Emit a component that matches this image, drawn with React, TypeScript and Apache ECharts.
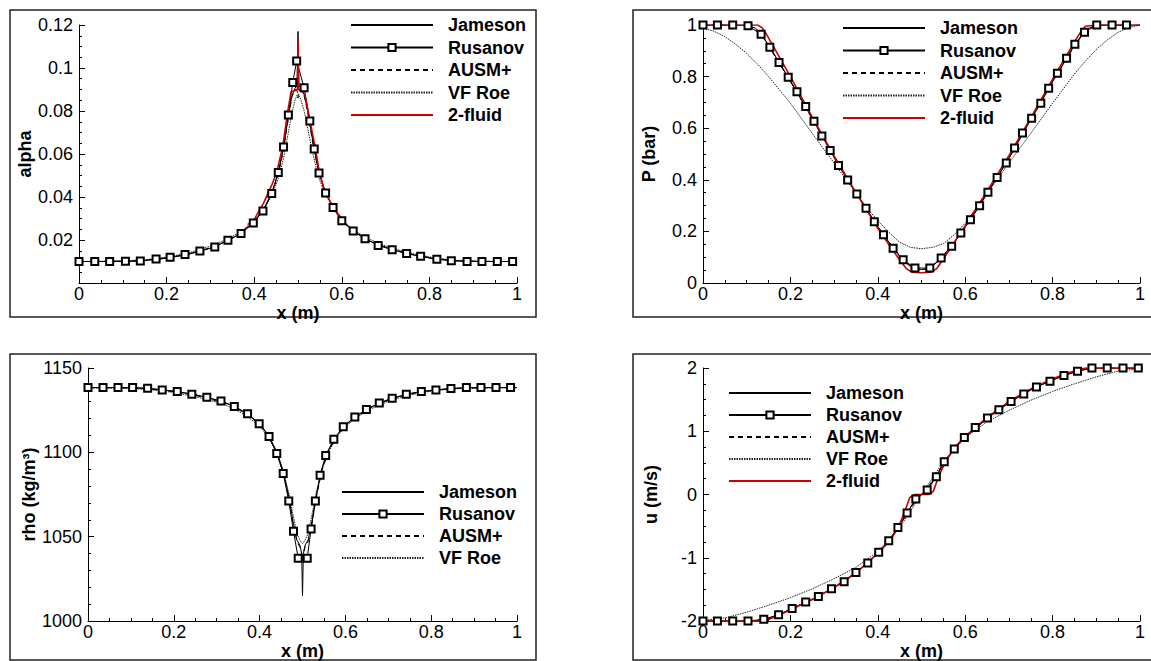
import React, { useEffect, useRef } from 'react';
import * as echarts from 'echarts';

const FONT = '"Liberation Sans", Arial, Helvetica, sans-serif';

const legendNames = ['Jameson', 'Rusanov', 'AUSM+', 'VF Roe', '2-fluid'];
const legendNamesRho = ['Jameson', 'Rusanov', 'AUSM+', 'VF Roe'];

// ---------- Panel 1: alpha ----------
const alphaX = [0, 0.05, 0.1, 0.15, 0.2, 0.25, 0.3, 0.34, 0.37, 0.4, 0.42, 0.44, 0.455, 0.467, 0.478, 0.486, 0.493, 0.498, 0.5, 0.502, 0.507, 0.514, 0.522, 0.533, 0.545, 0.56, 0.58, 0.6, 0.63, 0.66, 0.7, 0.75, 0.8, 0.85, 0.9, 0.95, 1];
const alphaJameson = [0.01, 0.01, 0.0101, 0.0104, 0.0115, 0.0133, 0.0162, 0.0196, 0.0232, 0.0285, 0.0336, 0.0418, 0.051, 0.0628, 0.0775, 0.087, 0.0905, 0.092, 0.117, 0.092, 0.0905, 0.088, 0.08, 0.067, 0.054, 0.0435, 0.0351, 0.0289, 0.0235, 0.0198, 0.0165, 0.0136, 0.0117, 0.0104, 0.0101, 0.01, 0.01];
const alphaAusm = [0.01, 0.01, 0.0101, 0.0105, 0.0116, 0.0135, 0.0164, 0.0198, 0.0234, 0.0287, 0.0337, 0.0415, 0.0505, 0.062, 0.0765, 0.0865, 0.09, 0.0895, 0.086, 0.0895, 0.09, 0.087, 0.0795, 0.066, 0.0535, 0.0432, 0.035, 0.029, 0.0237, 0.02, 0.0167, 0.0138, 0.0118, 0.0105, 0.0101, 0.01, 0.01];
const alphaVfRoe = [0.01, 0.0101, 0.0103, 0.0108, 0.012, 0.014, 0.0172, 0.0205, 0.024, 0.029, 0.0335, 0.0405, 0.0485, 0.058, 0.07, 0.079, 0.085, 0.0875, 0.088, 0.0875, 0.085, 0.08, 0.072, 0.061, 0.0505, 0.042, 0.0352, 0.0295, 0.0243, 0.0206, 0.0172, 0.0142, 0.0121, 0.0107, 0.0102, 0.01, 0.01];
const alphaRusanovX = [0, 0.036, 0.07, 0.106, 0.14, 0.176, 0.208, 0.242, 0.276, 0.31, 0.34, 0.37, 0.398, 0.42, 0.44, 0.455, 0.467, 0.478, 0.488, 0.497, 0.514, 0.527, 0.537, 0.548, 0.563, 0.58, 0.6, 0.626, 0.653, 0.683, 0.715, 0.748, 0.78, 0.817, 0.85, 0.886, 0.92, 0.955, 0.99];
const alphaRusanovY = [0.01, 0.01, 0.01, 0.0101, 0.0102, 0.0112, 0.012, 0.0132, 0.0149, 0.0168, 0.0199, 0.023, 0.0279, 0.0335, 0.0416, 0.0514, 0.0633, 0.0781, 0.0933, 0.1032, 0.0908, 0.0754, 0.0623, 0.0512, 0.0419, 0.0351, 0.0289, 0.0242, 0.0206, 0.0175, 0.0155, 0.0137, 0.0124, 0.011, 0.0104, 0.01, 0.01, 0.01, 0.01];
const alpha2FluidX = [0.385, 0.4, 0.421, 0.44, 0.4505, 0.465, 0.476, 0.484, 0.494, 0.4985, 0.5, 0.5015, 0.507, 0.516, 0.527, 0.539, 0.548, 0.56, 0.582, 0.603];
const alpha2FluidY = [0.0272, 0.0295, 0.037, 0.0455, 0.0509, 0.0633, 0.0789, 0.0889, 0.0895, 0.09, 0.1133, 0.09, 0.0895, 0.0874, 0.0758, 0.0633, 0.0525, 0.0432, 0.0346, 0.0292];

// ---------- Panel 2: P (bar) ----------
const pX = [0, 0.05, 0.1, 0.12, 0.135, 0.15, 0.175, 0.2, 0.25, 0.3, 0.35, 0.4, 0.43, 0.45, 0.47, 0.485, 0.5, 0.515, 0.53, 0.55, 0.57, 0.6, 0.65, 0.7, 0.75, 0.8, 0.825, 0.85, 0.865, 0.88, 0.9, 0.95, 1];
const pJameson = [1, 1, 0.999, 0.988, 0.962, 0.922, 0.853, 0.783, 0.637, 0.49, 0.35, 0.218, 0.147, 0.103, 0.07, 0.054, 0.052, 0.054, 0.072, 0.106, 0.144, 0.217, 0.346, 0.483, 0.633, 0.781, 0.851, 0.922, 0.958, 0.985, 0.999, 1, 1];
const pAusm = [1, 1, 0.998, 0.985, 0.958, 0.918, 0.85, 0.781, 0.636, 0.49, 0.351, 0.22, 0.15, 0.106, 0.072, 0.056, 0.053, 0.056, 0.074, 0.108, 0.146, 0.219, 0.348, 0.484, 0.634, 0.779, 0.848, 0.918, 0.954, 0.982, 0.998, 1, 1];
const pVfRoeX = [0, 0.025, 0.05, 0.075, 0.1, 0.125, 0.15, 0.2, 0.25, 0.3, 0.35, 0.385, 0.42, 0.45, 0.475, 0.5, 0.525, 0.55, 0.58, 0.6, 0.65, 0.7, 0.75, 0.8, 0.85, 0.875, 0.9, 0.925, 0.95, 0.975, 1];
const pVfRoeY = [0.988, 0.976, 0.955, 0.925, 0.89, 0.848, 0.8, 0.697, 0.58, 0.465, 0.348, 0.271, 0.205, 0.158, 0.138, 0.133, 0.138, 0.152, 0.195, 0.232, 0.348, 0.465, 0.58, 0.697, 0.81, 0.86, 0.905, 0.942, 0.972, 0.99, 1];
const pRusanovX = [0, 0.033, 0.068, 0.103, 0.133, 0.153, 0.174, 0.195, 0.215, 0.235, 0.254, 0.272, 0.291, 0.31, 0.331, 0.352, 0.373, 0.392, 0.413, 0.435, 0.458, 0.485, 0.519, 0.545, 0.569, 0.59, 0.612, 0.633, 0.652, 0.673, 0.694, 0.713, 0.731, 0.752, 0.773, 0.791, 0.811, 0.832, 0.851, 0.873, 0.901, 0.936, 0.969];
const pRusanovY = [1, 1, 1, 0.997, 0.964, 0.914, 0.855, 0.797, 0.741, 0.684, 0.627, 0.57, 0.514, 0.455, 0.399, 0.345, 0.29, 0.237, 0.187, 0.135, 0.09, 0.058, 0.058, 0.097, 0.142, 0.194, 0.245, 0.299, 0.352, 0.409, 0.465, 0.523, 0.581, 0.639, 0.697, 0.755, 0.813, 0.871, 0.925, 0.972, 1, 1, 1];
const p2FluidX = [0, 0.05, 0.1, 0.125, 0.135, 0.145, 0.16, 0.2, 0.25, 0.3, 0.35, 0.4, 0.43, 0.45, 0.465, 0.478, 0.5, 0.522, 0.535, 0.55, 0.57, 0.6, 0.65, 0.7, 0.75, 0.8, 0.84, 0.855, 0.865, 0.875, 0.9, 0.95, 1];
const p2FluidY = [1, 1, 1, 1, 0.99, 0.965, 0.92, 0.8, 0.643, 0.493, 0.35, 0.212, 0.137, 0.09, 0.056, 0.042, 0.04, 0.042, 0.056, 0.093, 0.145, 0.222, 0.356, 0.494, 0.64, 0.79, 0.905, 0.948, 0.975, 0.995, 1, 1, 1];

// ---------- Panel 3: rho ----------
const rhoX = [0, 0.05, 0.1, 0.15, 0.2, 0.25, 0.3, 0.34, 0.37, 0.4, 0.42, 0.44, 0.455, 0.468, 0.478, 0.487, 0.494, 0.498, 0.5, 0.502, 0.506, 0.513, 0.522, 0.532, 0.545, 0.56, 0.58, 0.6, 0.63, 0.66, 0.7, 0.75, 0.8, 0.85, 0.9, 0.95, 1];
const rhoJameson = [1138.4, 1138.4, 1138.3, 1137.6, 1136.3, 1134.2, 1131, 1127.5, 1123, 1117, 1110.5, 1100.5, 1089, 1074, 1059, 1048, 1045, 1040, 1015, 1040, 1045, 1048, 1059, 1074, 1090, 1101, 1110, 1116.3, 1122.3, 1126.8, 1131.3, 1134.8, 1136.8, 1137.9, 1138.3, 1138.4, 1138.4];
const rhoAusm = [1138.4, 1138.3, 1138.2, 1137.4, 1136, 1133.8, 1130.5, 1127, 1122.5, 1116.5, 1110, 1100, 1088, 1073, 1058, 1047, 1044, 1040, 1036, 1040, 1044, 1047, 1058, 1073, 1089, 1100.5, 1109.5, 1116, 1122, 1126.5, 1131, 1134.5, 1136.6, 1137.8, 1138.2, 1138.4, 1138.4];
const rhoVfRoe = [1138.2, 1138.1, 1137.9, 1137, 1135.5, 1133, 1129.8, 1126, 1121.5, 1115.5, 1109, 1099.5, 1089, 1076, 1063, 1052, 1048, 1046.5, 1046, 1046.5, 1048, 1052, 1063, 1076, 1089.5, 1100, 1109, 1115.3, 1121.3, 1125.8, 1130.3, 1134, 1136.3, 1137.6, 1138.1, 1138.3, 1138.3];
const rhoRusanovX = [0, 0.035, 0.07, 0.104, 0.139, 0.173, 0.208, 0.242, 0.277, 0.31, 0.341, 0.372, 0.399, 0.422, 0.44, 0.455, 0.468, 0.479, 0.49, 0.511, 0.52, 0.53, 0.541, 0.554, 0.573, 0.595, 0.622, 0.649, 0.679, 0.709, 0.742, 0.777, 0.811, 0.846, 0.882, 0.916, 0.951, 0.985];
const rhoRusanovY = [1138.4, 1138.4, 1138.4, 1138.4, 1138, 1137, 1136, 1134.5, 1132.6, 1130.4, 1127.2, 1122.9, 1117, 1109.4, 1099.3, 1087.5, 1071.2, 1053.2, 1037.2, 1037.2, 1054.6, 1071.2, 1086.5, 1098.1, 1107.8, 1115.2, 1121, 1125.4, 1129.3, 1132, 1134.5, 1136, 1137, 1137.8, 1138.4, 1138.4, 1138.4, 1138.4];

// ---------- Panel 4: u ----------
const uX = [0, 0.05, 0.1, 0.13, 0.15, 0.175, 0.2, 0.25, 0.3, 0.35, 0.4, 0.425, 0.45, 0.465, 0.475, 0.485, 0.5, 0.515, 0.525, 0.535, 0.55, 0.575, 0.6, 0.65, 0.7, 0.75, 0.8, 0.83, 0.86, 0.88, 0.9, 0.95, 1];
const uJameson = [-2, -2, -2, -1.99, -1.96, -1.89, -1.815, -1.655, -1.465, -1.23, -0.93, -0.73, -0.47, -0.31, -0.2, -0.09, 0, 0.09, 0.2, 0.31, 0.47, 0.72, 0.9, 1.2, 1.45, 1.655, 1.815, 1.89, 1.955, 1.985, 2, 2, 2];
const uAusm = [-2, -2, -2, -1.99, -1.965, -1.895, -1.82, -1.66, -1.47, -1.24, -0.94, -0.74, -0.49, -0.33, -0.22, -0.12, 0, 0.12, 0.22, 0.33, 0.49, 0.73, 0.91, 1.21, 1.46, 1.66, 1.82, 1.895, 1.96, 1.99, 2, 2, 2];
const uVfRoeX = [0, 0.05, 0.1, 0.15, 0.2, 0.25, 0.3, 0.35, 0.4, 0.45, 0.5, 0.55, 0.6, 0.65, 0.7, 0.75, 0.8, 0.85, 0.9, 0.95, 1];
const uVfRoeY = [-1.99, -1.95, -1.86, -1.75, -1.63, -1.49, -1.33, -1.15, -0.9, -0.52, 0, 0.52, 0.9, 1.15, 1.33, 1.49, 1.63, 1.75, 1.86, 1.95, 1.99];
const uRusanovX = [0, 0.033, 0.068, 0.103, 0.139, 0.173, 0.204, 0.235, 0.264, 0.294, 0.323, 0.35, 0.377, 0.402, 0.425, 0.446, 0.467, 0.487, 0.513, 0.534, 0.552, 0.575, 0.598, 0.623, 0.651, 0.677, 0.705, 0.734, 0.763, 0.794, 0.826, 0.857, 0.89, 0.925, 0.961, 0.996];
const uRusanovY = [-2, -2, -2, -2, -1.97, -1.9, -1.8, -1.7, -1.61, -1.49, -1.38, -1.23, -1.08, -0.91, -0.73, -0.52, -0.29, -0.07, 0.07, 0.28, 0.52, 0.72, 0.9, 1.06, 1.21, 1.34, 1.47, 1.59, 1.7, 1.79, 1.88, 1.95, 2, 2, 2, 2];
const u2FluidX = [0, 0.05, 0.1, 0.14, 0.15, 0.175, 0.2, 0.25, 0.3, 0.35, 0.4, 0.425, 0.445, 0.46, 0.473, 0.483, 0.5, 0.517, 0.527, 0.54, 0.555, 0.575, 0.6, 0.65, 0.7, 0.75, 0.8, 0.83, 0.86, 0.875, 0.9, 0.95, 1];
const u2FluidY = [-2, -2, -2, -2, -1.975, -1.905, -1.82, -1.66, -1.47, -1.24, -0.93, -0.75, -0.55, -0.3, -0.05, 0, 0, 0, 0.05, 0.3, 0.52, 0.74, 0.92, 1.22, 1.47, 1.67, 1.83, 1.91, 1.975, 2, 2, 2, 2];

// ---------- option building ----------
const zip = (xs: number[], ys: number[]) => xs.map((x, i) => [x, ys[i]]);

function mkSeries(name: string, grid: number, xs: number[], ys: number[]): any {
  const base: any = {
    type: 'line',
    name,
    xAxisIndex: grid,
    yAxisIndex: grid,
    data: zip(xs, ys),
    smooth: false,
    silent: true,
    emphasis: { disabled: true },
    clip: true,
  };
  if (name === 'Rusanov') {
    return {
      ...base,
      symbol: 'emptyRect',
      symbolSize: 7,
      showSymbol: true,
      showAllSymbol: true,
      color: '#000',
      itemStyle: { color: '#000', borderColor: '#000', borderWidth: 1 },
      lineStyle: { color: '#000', width: 1, type: 'solid' },
    };
  }
  const styles: Record<string, any> = {
    Jameson: { color: '#000', width: 1, type: 'solid' },
    'AUSM+': { color: '#000', width: 1, type: [5, 4] },
    'VF Roe': { color: '#222', width: 1, type: [1.5, 1] },
    '2-fluid': { color: '#cc0000', width: 1.6, type: 'solid' },
  };
  const ls = styles[name];
  return {
    ...base,
    symbol: 'none',
    showSymbol: false,
    color: ls.color,
    itemStyle: { color: ls.color },
    lineStyle: ls,
  };
}

const tickFont = { fontFamily: FONT, fontSize: 18, color: '#000' };
const nameFont = { fontFamily: FONT, fontSize: 18, fontWeight: 'bold' as const, color: '#000' };

function xAxisFor(grid: number): any {
  return {
    type: 'value',
    gridIndex: grid,
    min: 0,
    max: 1,
    interval: 0.2,
    name: 'x (m)',
    nameLocation: 'middle',
    nameGap: 13,
    nameTextStyle: nameFont,
    axisLine: { show: true, onZero: false, lineStyle: { color: '#000', width: 1 } },
    axisTick: { show: true, inside: true, length: 6, lineStyle: { color: '#000', width: 1 } },
    minorTick: { show: true, splitNumber: 4, length: 3, lineStyle: { color: '#000', width: 1 } },
    axisLabel: { ...tickFont, margin: 2 },
    splitLine: { show: false },
    minorSplitLine: { show: false },
  };
}

function yAxisFor(grid: number, name: string, min: number, max: number, interval: number, minorSplit: number, nameGap: number, hideZero = false): any {
  return {
    type: 'value',
    gridIndex: grid,
    min,
    max,
    interval,
    name,
    nameLocation: 'middle',
    nameRotate: 90,
    nameGap,
    nameTextStyle: nameFont,
    axisLine: { show: true, onZero: false, lineStyle: { color: '#000', width: 1 } },
    axisTick: { show: true, inside: true, length: 6, lineStyle: { color: '#000', width: 1 } },
    minorTick: { show: true, splitNumber: minorSplit, length: 3, lineStyle: { color: '#000', width: 1 } },
    axisLabel: {
      ...tickFont,
      margin: 6,
      formatter: (v: number) => (hideZero && v === 0 ? '' : String(+v.toFixed(4))),
    },
    splitLine: { show: false },
    minorSplitLine: { show: false },
  };
}

function legendFor(names: string[], left: number, top: number, gap: number, width: number): any {
  return {
    data: names.map((n) =>
      n === 'Rusanov' ? { name: n } : { name: n, itemStyle: { opacity: 0 } }
    ),
    orient: 'vertical',
    left,
    top,
    padding: 0,
    itemWidth: width,
    itemHeight: 9,
    itemGap: gap,
    selectedMode: false,
    textStyle: { ...nameFont, lineHeight: 18, padding: [0, 0, 0, 10] },
  };
}

const frames = [
  [10, 10, 526, 307],
  [633, 10, 600, 307],
  [10, 354, 526, 306],
  [633, 354, 600, 306],
];

const option: any = {
  animation: false,
  backgroundColor: '#fff',
  grid: [
    { left: 79, top: 25, width: 438, height: 258 },
    { left: 703, top: 25, width: 437, height: 258 },
    { left: 88, top: 368, width: 429, height: 259 },
    { left: 703, top: 368, width: 437, height: 258 },
  ],
  xAxis: [xAxisFor(0), xAxisFor(1), xAxisFor(2), xAxisFor(3)],
  yAxis: [
    yAxisFor(0, 'alpha', 0, 0.12, 0.02, 4, 44, true),
    yAxisFor(1, 'P (bar)', 0, 1, 0.2, 4, 45),
    yAxisFor(2, 'rho (kg/m³)', 1000, 1150, 50, 5, 50),
    yAxisFor(3, 'u (m/s)', -2, 2, 1, 4, 43),
  ],
  legend: [
    legendFor(legendNames, 350, 16, 4.5, 82),
    legendFor(legendNames, 842, 19, 4.5, 82),
    legendFor(legendNamesRho, 341, 483, 4, 82),
    legendFor(legendNames, 728, 384, 4, 82),
  ],
  graphic: frames.map((f) => ({
    type: 'rect',
    silent: true,
    shape: { x: f[0], y: f[1], width: f[2], height: f[3] },
    style: { fill: 'none', stroke: '#222', lineWidth: 1.5 },
    z: -10,
  })),
  series: [
    // panel 1
    mkSeries('VF Roe', 0, alphaX, alphaVfRoe),
    mkSeries('AUSM+', 0, alphaX, alphaAusm),
    mkSeries('Jameson', 0, alphaX, alphaJameson),
    mkSeries('Rusanov', 0, alphaRusanovX, alphaRusanovY),
    mkSeries('2-fluid', 0, alpha2FluidX, alpha2FluidY),
    // panel 2
    mkSeries('VF Roe', 1, pVfRoeX, pVfRoeY),
    mkSeries('AUSM+', 1, pX, pAusm),
    mkSeries('Jameson', 1, pX, pJameson),
    mkSeries('Rusanov', 1, pRusanovX, pRusanovY),
    mkSeries('2-fluid', 1, p2FluidX, p2FluidY),
    // panel 3
    mkSeries('VF Roe', 2, rhoX, rhoVfRoe),
    mkSeries('AUSM+', 2, rhoX, rhoAusm),
    mkSeries('Jameson', 2, rhoX, rhoJameson),
    mkSeries('Rusanov', 2, rhoRusanovX, rhoRusanovY),
    // panel 4
    mkSeries('VF Roe', 3, uVfRoeX, uVfRoeY),
    mkSeries('AUSM+', 3, uX, uAusm),
    mkSeries('Jameson', 3, uX, uJameson),
    mkSeries('Rusanov', 3, uRusanovX, uRusanovY),
    mkSeries('2-fluid', 3, u2FluidX, u2FluidY),
  ],
};

export default function App() {
  const ref = useRef<HTMLDivElement>(null);
  useEffect(() => {
    if (!ref.current) return;
    const chart = echarts.init(ref.current, null, { renderer: 'svg' });
    chart.setOption(option);
    return () => chart.dispose();
  }, []);
  return (
    <div
      ref={ref}
      style={{ position: 'absolute', left: 0, top: 0, width: 1151, height: 661, background: '#fff' }}
    />
  );
}
